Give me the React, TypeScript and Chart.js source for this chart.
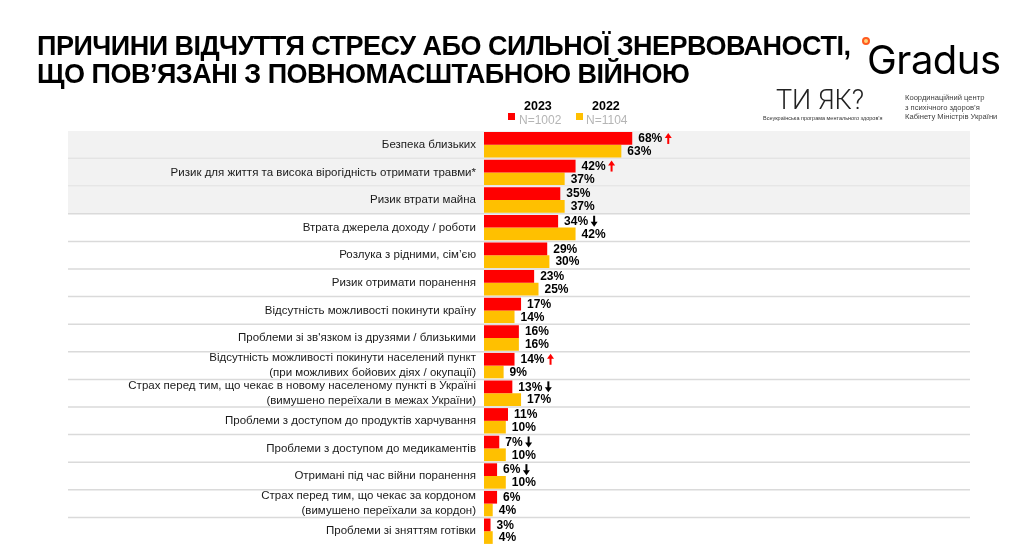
import React, { useEffect, useRef } from "react";
import { Chart, registerables } from "chart.js";

Chart.register(...registerables);

const categories: (string | string[])[] = [
  "Безпека близьких",
  "Ризик для життя та висока вірогідність отримати травми*",
  "Ризик втрати майна",
  "Втрата джерела доходу / роботи",
  "Розлука з рідними, сім’єю",
  "Ризик отримати поранення",
  "Відсутність можливості покинути країну",
  "Проблеми зі зв'язком із друзями / близькими",
  ["Відсутність можливості покинути населений пункт", "(при можливих бойових діях / окупації)"],
  ["Страх перед тим, що чекає в новому населеному пункті в Україні", "(вимушено переїхали в межах України)"],
  "Проблеми з доступом до продуктів харчування",
  "Проблеми з доступом до медикаментів",
  "Отримані під час війни поранення",
  ["Страх перед тим, що чекає за кордоном", "(вимушено переїхали за кордон)"],
  "Проблеми зі зняттям готівки",
];

const values2023 = [68, 42, 35, 34, 29, 23, 17, 16, 14, 13, 11, 7, 6, 6, 3];
const values2022 = [63, 37, 37, 42, 30, 25, 14, 16, 9, 17, 10, 10, 10, 4, 4];
const trends2023 = ["up", "up", "", "down", "", "", "", "", "up", "down", "", "down", "down", "", ""];
const highlightedRows = 3;

const FONT = '"Liberation Sans", Arial, sans-serif';

function drawArrow(ctx: CanvasRenderingContext2D, cx: number, cy: number, up: boolean, color: string) {
  const h = 11;
  const top = cy - h / 2;
  const bottom = cy + h / 2;
  ctx.fillStyle = color;
  ctx.beginPath();
  if (up) {
    ctx.moveTo(cx, top);
    ctx.lineTo(cx - 3.5, top + 5);
    ctx.lineTo(cx + 3.5, top + 5);
    ctx.closePath();
    ctx.fill();
    ctx.fillRect(cx - 1, top + 4, 2, h - 4);
  } else {
    ctx.moveTo(cx, bottom);
    ctx.lineTo(cx - 3.5, bottom - 5);
    ctx.lineTo(cx + 3.5, bottom - 5);
    ctx.closePath();
    ctx.fill();
    ctx.fillRect(cx - 1, top, 2, h - 4);
  }
}

const rowsPlugin = {
  id: "rows",
  beforeDraw(chart: any) {
    const { ctx, chartArea, scales } = chart;
    const y = scales.y;
    const n = categories.length;
    const step = (chartArea.bottom - chartArea.top) / n;
    const left = 68;
    const right = 970;
    ctx.save();
    for (let i = 0; i < n; i++) {
      const yc = y.getPixelForValue(i);
      const top = yc - step / 2;
      if (i < highlightedRows) {
        ctx.fillStyle = "#f2f2f2";
        ctx.fillRect(left, top, right - left, step);
      }
      if (i < n - 1) {
        ctx.strokeStyle = "#dadada";
        ctx.lineWidth = 1.5;
        ctx.beginPath();
        ctx.moveTo(left, top + step);
        ctx.lineTo(right, top + step);
        ctx.stroke();
      }
    }
    ctx.restore();
  },
  afterDatasetsDraw(chart: any) {
    const { ctx } = chart;
    ctx.save();
    ctx.font = `bold 12px ${FONT}`;
    ctx.textBaseline = "middle";
    ctx.textAlign = "left";
    chart.data.datasets.forEach((ds: any, di: number) => {
      const meta = chart.getDatasetMeta(di);
      meta.data.forEach((bar: any, i: number) => {
        const text = ds.data[i] + "%";
        const x = bar.x + 6;
        const yy = bar.y + 0.5;
        ctx.fillStyle = "#000";
        ctx.fillText(text, x, yy);
        if (di === 0 && trends2023[i]) {
          const w = ctx.measureText(text).width;
          const up = trends2023[i] === "up";
          drawArrow(ctx, x + w + 6, bar.y, up, up ? "#ff0000" : "#000000");
        }
      });
    });
    ctx.restore();
  },
};

export default function App() {
  const ref = useRef<HTMLCanvasElement | null>(null);

  useEffect(() => {
    if (!ref.current) return;
    const chart = new Chart(ref.current, {
      type: "bar",
      data: {
        labels: categories as any,
        datasets: [
          {
            label: "2023",
            data: values2023,
            backgroundColor: "#ff0000",
            borderWidth: 0,
            categoryPercentage: 0.92,
            barPercentage: 1,
          },
          {
            label: "2022",
            data: values2022,
            backgroundColor: "#ffc000",
            borderWidth: 0,
            categoryPercentage: 0.92,
            barPercentage: 1,
          },
        ],
      },
      options: {
        indexAxis: "y",
        responsive: false,
        animation: false,
        layout: { padding: { top: 131, bottom: 0, left: 0, right: 334 } },
        plugins: {
          legend: { display: false },
          tooltip: { enabled: false },
        },
        scales: {
          x: { display: false, min: 0, max: 100 },
          y: {
            grid: { display: false, drawTicks: false },
            border: { display: false },
            ticks: {
              color: "#1a1a1a",
              padding: 8,
              autoSkip: false,
              font: { family: FONT, size: 11.5, lineHeight: 1.3 },
            },
            afterFit: (s: any) => {
              s.width = 484;
              s.paddingTop = 0;
              s.paddingBottom = 0;
            },
          },
        },
      },
      plugins: [rowsPlugin],
    });
    return () => chart.destroy();
  }, []);

  const abs = (o: React.CSSProperties): React.CSSProperties => ({ position: "absolute", whiteSpace: "nowrap", ...o });

  return (
    <div style={{ position: "fixed", left: 0, top: 0, width: 1036, height: 545, background: "#fff", overflow: "hidden", fontFamily: FONT }}>
      <canvas ref={ref} width={1036} height={545} style={{ position: "absolute", left: 0, top: 0, display: "block" }} />
      <div style={abs({ left: 37, top: 32, fontSize: 27, lineHeight: "28px", letterSpacing: -0.5, fontWeight: 700, color: "#000" })}>
        ПРИЧИНИ ВІДЧУТТЯ СТРЕСУ АБО СИЛЬНОЇ ЗНЕРВОВАНОСТІ,
        <br />
        ЩО ПОВ’ЯЗАНІ З ПОВНОМАСШТАБНОЮ ВІЙНОЮ
      </div>

      {/* legend */}
      <div style={abs({ left: 508, top: 113, width: 7, height: 7, background: "#ff0000" })} />
      <div style={abs({ left: 524, top: 99.5, fontSize: 12.5, lineHeight: "12.5px", fontWeight: 700, color: "#000" })}>2023</div>
      <div style={abs({ left: 519, top: 113.5, fontSize: 12, lineHeight: "12px", color: "#b5b5b5" })}>N=1002</div>
      <div style={abs({ left: 576, top: 113, width: 7, height: 7, background: "#ffc000" })} />
      <div style={abs({ left: 592, top: 99.5, fontSize: 12.5, lineHeight: "12.5px", fontWeight: 700, color: "#000" })}>2022</div>
      <div style={abs({ left: 586, top: 113.5, fontSize: 12, lineHeight: "12px", color: "#b5b5b5" })}>N=1104</div>

      {/* Gradus logo */}
      <div style={abs({ left: 862, top: 37, width: 4, height: 4, borderRadius: "50%", border: "2.5px solid #ff5a1f", background: "#ffd27a" })} />
      <div style={abs({ left: 867, top: 39.5, fontSize: 40, lineHeight: "40px", fontFamily: "Inter, sans-serif", fontWeight: 400, letterSpacing: -0.5, color: "#000" })}>Gradus</div>

      {/* ТИ ЯК logo */}
      <div style={abs({ left: 776, top: 87, fontSize: 27, lineHeight: "27px", fontFamily: "Roboto, sans-serif", fontWeight: 300, color: "#222" })}>ТИ ЯК?</div>
      <div style={abs({ left: 763, top: 115, fontSize: 5.5, lineHeight: "6px", color: "#333" })}>Всеукраїнська програма ментального здоров’я</div>

      <div style={abs({ left: 905, top: 93, fontSize: 7.6, lineHeight: "9.5px", color: "#404040" })}>
        Координаційний центр
        <br />з психічного здоров’я
        <br />Кабінету Міністрів України
      </div>
    </div>
  );
}
